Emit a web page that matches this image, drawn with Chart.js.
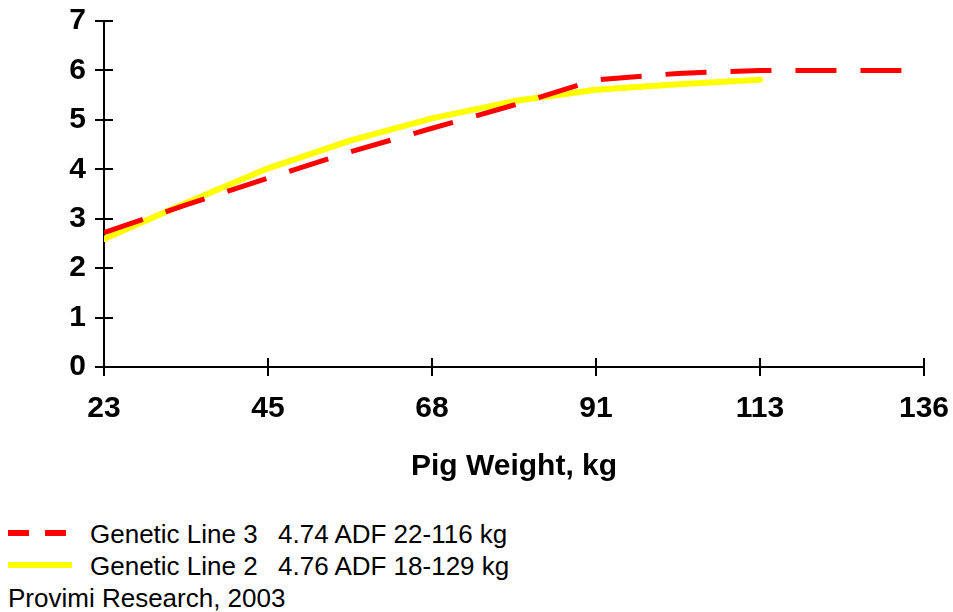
<!DOCTYPE html>
<html>
<head>
<meta charset="utf-8">
<script src="https://cdn.jsdelivr.net/npm/chart.js@4.4.1/dist/chart.umd.min.js"></script>
<style>
  body { margin: 0; background: #fff; font-family: "Liberation Sans", Arial, sans-serif; }
  #wrap { position: relative; width: 953px; height: 612px; }
  #legend { position: absolute; left: 8px; top: 518px; font-size: 26px; color: #000; }
  .row { height: 32px; line-height: 32px; white-space: nowrap; position: relative; }
  .sample { position: absolute; left: 0; top: 12px; width: 64px; height: 6px; }
  .lbl { position: absolute; left: 82px; }
  .val { position: absolute; left: 270px; }
  #source { position: absolute; left: 8px; top: 582px; font-size: 26px; line-height: 33px; }
</style>
</head>
<body>
<div id="wrap">
  <canvas id="chart" width="953" height="490"></canvas>
  <div id="legend"></div>
  <div id="source">Provimi Research, 2003</div>
</div>
<script>
// x positions are tick slots (0 = 23 kg, 1 = 45 kg ...), half steps in between
var xLabels = ['23', '45', '68', '91', '113', '136'];
var xLine3 = [0, 0.5, 1, 1.5, 2, 2.5, 3, 3.5, 4, 4.5, 5];
var line3 = [2.72, 3.28, 3.82, 4.35, 4.83, 5.30, 5.81, 5.94, 6.0, 6.0, 6.0];
var xLine2 = [0, 0.5, 1, 1.5, 2, 2.5, 3, 3.5, 4];
var line2 = [2.59, 3.32, 4.02, 4.58, 5.03, 5.38, 5.61, 5.72, 5.81];

var names = ['Genetic Line 3', 'Genetic Line 2'];
var notes = ['4.74 ADF 22-116 kg', '4.76 ADF 18-129 kg'];

function points(xs, ys) {
    var out = [];
    for (var i = 0; i < xs.length; i++) {
        out.push({x: xs[i], y: ys[i]});
    }
    return out;
}

var tickFont = {family: 'Liberation Sans, Arial, sans-serif', size: 30, weight: 'bold'};

// Chart.js only draws ticks outside the axis, the original crosses it
var innerTicks = {
    id: 'innerTicks',
    afterDraw: function(chart) {
        var ctx = chart.ctx;
        var xs = chart.scales.x, ys = chart.scales.y;
        var area = chart.chartArea;
        ctx.save();
        ctx.strokeStyle = '#000';
        ctx.lineWidth = 2;
        ctx.beginPath();
        for (var i = 0; i < ys.ticks.length; i++) {
            var py = Math.round(ys.getPixelForValue(ys.ticks[i].value));
            ctx.moveTo(area.left, py);
            ctx.lineTo(area.left + 9, py);
        }
        for (var j = 0; j < xs.ticks.length; j++) {
            var px = Math.round(xs.getPixelForValue(xs.ticks[j].value));
            ctx.moveTo(px, area.bottom);
            ctx.lineTo(px, area.bottom - 9);
        }
        ctx.stroke();
        ctx.restore();
    }
};

var chart = new Chart(document.getElementById('chart').getContext('2d'), {
    type: 'line',
    data: {
        datasets: [{
            label: names[0],
            data: points(xLine3, line3),
            borderColor: '#ff0000',
            borderWidth: 5,
            borderDash: [41, 24],
            borderCapStyle: 'butt',
            pointRadius: 0,
            tension: 0
        }, {
            label: names[1],
            data: points(xLine2, line2),
            borderColor: '#ffff00',
            borderWidth: 6,
            borderCapStyle: 'round',
            borderJoinStyle: 'round',
            pointRadius: 0,
            tension: 0
        }]
    },
    options: {
        responsive: false,
        animation: false,
        layout: {padding: {top: 21, right: 29, left: 0, bottom: 0}},
        plugins: {legend: {display: false}, tooltip: {enabled: false}},
        scales: {
            x: {
                type: 'linear', min: 0, max: 5,
                ticks: {
                    stepSize: 1, color: '#000', font: tickFont, padding: 15, maxRotation: 0,
                    callback: function(v) { return xLabels[v]; }
                },
                grid: {drawOnChartArea: false, color: '#000', lineWidth: 2, tickLength: 9},
                border: {color: '#000', width: 2},
                title: {display: true, text: 'Pig Weight, kg', color: '#000', font: tickFont, padding: 5},
                afterFit: function(s) {
                    s.height = 123;
                    s.paddingLeft = 0;
                    s.paddingRight = 0;
                }
            },
            y: {
                min: 0, max: 7,
                ticks: {stepSize: 1, color: '#000', font: tickFont, padding: 9},
                grid: {drawOnChartArea: false, color: '#000', lineWidth: 2, tickLength: 9},
                border: {color: '#000', width: 2},
                afterFit: function(s) {
                    s.width = 104;
                    s.paddingTop = 0;
                    s.paddingBottom = 0;
                }
            }
        }
    },
    plugins: [innerTicks]
});

// html legend built from the datasets
var legend = document.getElementById('legend');
for (var i = 0; i < chart.data.datasets.length; i++) {
    var ds = chart.data.datasets[i];
    var row = document.createElement('div');
    row.className = 'row';
    var sample = '';
    if (ds.borderDash) {
        sample = '<div class="sample"><div style="position:absolute;left:0;width:21px;height:6px;background:' + ds.borderColor + '"></div>' +
                 '<div style="position:absolute;left:37px;width:21px;height:6px;background:' + ds.borderColor + '"></div></div>';
    } else {
        sample = '<div class="sample" style="background:' + ds.borderColor + '"></div>';
    }
    row.innerHTML = sample + '<span class="lbl">' + ds.label + '</span><span class="val">' + notes[i] + '</span>';
    legend.appendChild(row);
}
</script>
</body>
</html>
